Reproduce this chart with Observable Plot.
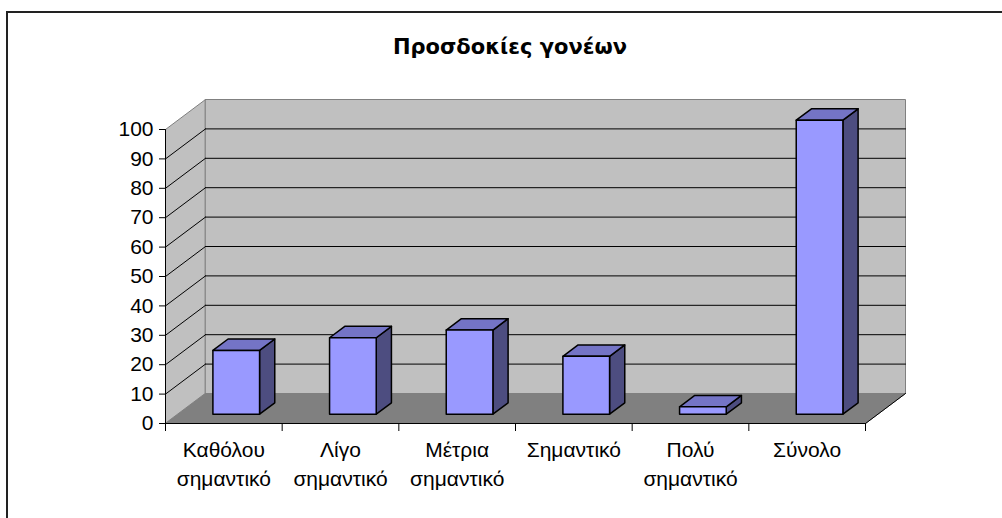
<!DOCTYPE html>
<html>
<head>
<meta charset="utf-8">
<script src="https://cdn.jsdelivr.net/npm/d3@7"></script>
<script src="https://cdn.jsdelivr.net/npm/@observablehq/plot@0.6"></script>
<style>
  body { margin: 0; background: #fff; }
  #wrap { position: relative; width: 1002px; height: 518px; overflow: hidden; background: #fff; }
  #border { position: absolute; left: 6px; top: 11px; width: 1100px; height: 700px; border: 2px solid #222; box-sizing: border-box; }
  #title { position: absolute; left: 0; top: 37px; width: 1020px; text-align: center;
           font: bold 21px "DejaVu Sans", Verdana, sans-serif; line-height: 21px; color: #000; }
  #chart { position: absolute; left: 0; top: 0; }
</style>
</head>
<body>
<div id="wrap">
  <div id="border"></div>
  <div id="title">Προσδοκίες γονέων</div>
  <div id="chart"></div>
</div>
<script>
// ---- data ----
const categories = ["Καθόλου\nσημαντικό", "Λίγο\nσημαντικό", "Μέτρια\nσημαντικό", "Σημαντικό", "Πολύ\nσημαντικό", "Σύνολο"];
const values = [21.7, 26, 28.6, 19.7, 2.5, 100];
const yTicks = [0, 10, 20, 30, 40, 50, 60, 70, 80, 90, 100];
const gridValues = [10, 20, 30, 40, 50, 60, 70, 80, 90];

// ---- layout ----
const W = 1002, H = 518;
const ML = 165, MR = 137, MT = 129, MB = 95;
const N = categories.length;
const yMax = 100;
const depthPx = [40, 30]; // 3D depth offset (right, up)
const DXu = depthPx[0] / ((W - ML - MR) / N);
const DYu = depthPx[1] / ((H - MT - MB) / yMax);
const P = (c, v, d) => ({x: c + d * DXu, y: v + d * DYu});

const poly = (pts, fill, stroke, sw = 1) =>
  Plot.line(pts, {x: "x", y: "y", fill, stroke, strokeWidth: sw, curve: "linear-closed", strokeLinejoin: "round"});
const seg = (a, b, stroke, sw = 1) =>
  Plot.line([a, b], {x: "x", y: "y", stroke, strokeWidth: sw});

const wallFill = "#c0c0c0", wallStroke = "#808080", floorFill = "#808080";
const marks = [];
// side wall (left)
marks.push(poly([P(0,0,0), P(0,yMax,0), P(0,yMax,1), P(0,0,1)], wallFill, wallStroke));
// back wall
marks.push(poly([P(0,0,1), P(N,0,1), P(N,yMax,1), P(0,yMax,1)], wallFill, wallStroke));
// floor
marks.push(poly([P(0,0,0), P(N,0,0), P(N,0,1), P(0,0,1)], floorFill, floorFill));
// gridlines
for (const v of gridValues) {
  marks.push(seg(P(0,v,1), P(N,v,1), "#000"));
  marks.push(seg(P(0,v,0), P(0,v,1), "#000"));
}
// bars
const hw = 0.2, d0 = 0.31, d1 = 0.69;
values.forEach((v, i) => {
  const x0 = i + 0.5 - hw, x1 = i + 0.5 + hw;
  marks.push(poly([P(x1,0,d0), P(x1,0,d1), P(x1,v,d1), P(x1,v,d0)], "#4d4d80", "#000", 1.5));
  marks.push(poly([P(x0,v,d0), P(x1,v,d0), P(x1,v,d1), P(x0,v,d1)], "#7474c6", "#000", 1.5));
  marks.push(poly([P(x0,0,d0), P(x1,0,d0), P(x1,v,d0), P(x0,v,d0)], "#9999ff", "#000", 1.5));
});
// axis lines
marks.push(seg(P(0,0,0), P(0,yMax,0), "#000"));
marks.push(seg(P(0,0,0), P(N,0,0), "#000"));
marks.push(seg(P(N,0,0), P(N,0,1), "#000"));
// axes
marks.push(Plot.axisY({ticks: yTicks, tickSize: 6, tickPadding: 6, label: null, fontSize: 21, stroke: "#000", fill: "#000"}));
marks.push(Plot.axisX({ticks: d3.range(N + 1), tickSize: 8, tickFormat: () => "", label: null, stroke: "#000"}));
marks.push(Plot.text(categories, {x: (d, i) => i + 0.5, y: 0, text: d => d, lineAnchor: "top", dy: 14, fontSize: 21, lineHeight: 1.34, fill: "#000"}));

const chart = Plot.plot({
  width: W, height: H,
  marginLeft: ML, marginRight: MR, marginTop: MT, marginBottom: MB,
  x: {domain: [0, N]},
  y: {domain: [0, yMax]},
  style: {fontFamily: "'Liberation Sans', Arial, sans-serif", fontSize: "21px", color: "#000", background: "transparent", overflow: "visible"},
  marks
});
document.getElementById("chart").appendChild(chart);
</script>
</body>
</html>
